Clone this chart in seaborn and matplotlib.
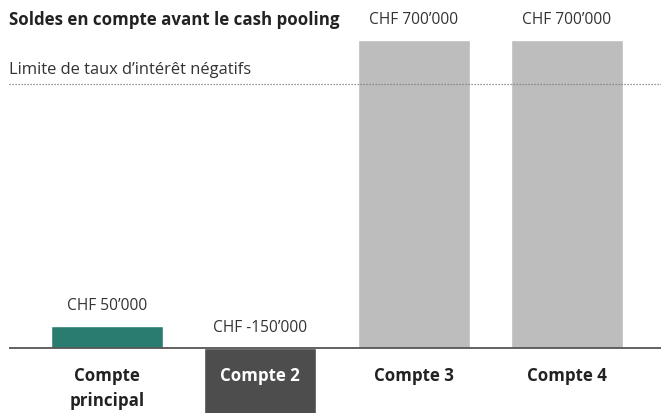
import matplotlib
matplotlib.use("Agg")
import matplotlib.pyplot as plt
import seaborn as sns
import pandas as pd

comptes = ["Compte\nprincipal", "Compte 2", "Compte 3", "Compte 4"]
soldes = [50000, -150000, 700000, 700000]
etiquettes = ["CHF 50’000", "CHF -150’000", "CHF 700’000", "CHF 700’000"]
couleurs = ["#2b7c70", "#4d4d4d", "#bdbdbd", "#bdbdbd"]
limite = 600000

sns.set_style("white")
plt.rcParams["font.family"] = ["Open Sans", "DejaVu Sans"]

df = pd.DataFrame({"compte": comptes, "solde": soldes})

fig = plt.figure(figsize=(6.61, 4.14), dpi=100)
ax = fig.add_axes([0, 0, 1, 1])
sns.barplot(data=df, x="compte", y="solde", hue="compte", palette=couleurs,
            width=0.73, saturation=1, legend=False, ax=ax)

ax.set_xlim(-0.698, 3.613)
ax.set_ylim(-147700, 793200)
ax.axis("off")

# ligne de base et limite
ax.hlines(0, -0.64, 3.62, color="#555555", lw=1.3, zorder=3)
ax.hlines(limite, -0.64, 3.62, color="#777777", lw=0.9, linestyles=(0, (1, 1.4)), zorder=3)

# montants au-dessus des barres
for i, (v, t) in enumerate(zip(soldes, etiquettes)):
    ax.annotate(t, (i, max(v, 0)), xytext=(0, 15), textcoords="offset points",
                ha="center", va="center", fontsize=11.2, color="#333333")

# noms des comptes (une ligne après l'autre)
tr = ax.get_xaxis_transform()
for i, c in enumerate(comptes):
    col = "white" if i == 1 else "#222222"
    for k, ligne in enumerate(c.split("\n")):
        ax.text(i, 1 - (376 + 25 * k) / 414, ligne, transform=tr, ha="center",
                va="center", fontsize=12.2, fontweight="bold", color=col)

ax.text(9 / 661, 1 - 20 / 414, "Soldes en compte avant le cash pooling",
        transform=ax.transAxes, ha="left", va="center", fontsize=12.2,
        fontweight="bold", color="#222222")
ax.text(9 / 661, 1 - 70 / 414, "Limite de taux d’intérêt négatifs",
        transform=ax.transAxes, ha="left", va="center", fontsize=11.9, color="#333333")

fig.savefig("out.png", dpi=100)
